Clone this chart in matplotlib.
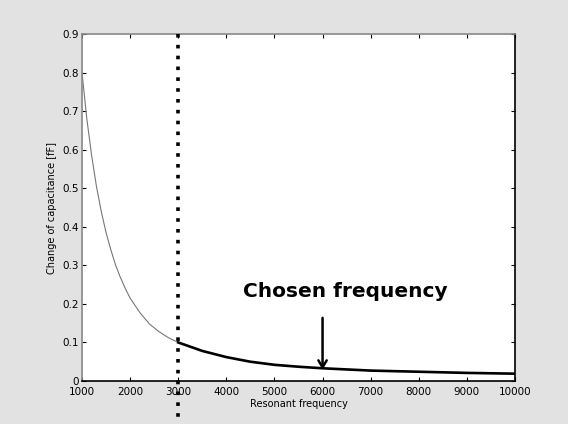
import matplotlib.pyplot as plt
from matplotlib.transforms import blended_transform_factory

# values
freq_low = [1000, 1100, 1200, 1300, 1400, 1500, 1600, 1700, 1800, 1900, 2000,
            2200, 2400, 2600, 2800, 3000]
cap_low = [0.80, 0.68, 0.585, 0.505, 0.44, 0.385, 0.34, 0.30, 0.268, 0.24, 0.215,
           0.178, 0.148, 0.128, 0.112, 0.10]

freq_high = [3000, 3500, 4000, 4500, 5000, 5500, 6000, 7000, 8000, 9000, 10000]
cap_high = [0.10, 0.078, 0.062, 0.05, 0.042, 0.037, 0.033, 0.027, 0.024, 0.021, 0.019]

xticks = [1000, 2000, 3000, 4000, 5000, 6000, 7000, 8000, 9000, 10000]
yticks = [0, 0.1, 0.2, 0.3, 0.4, 0.5, 0.6, 0.7, 0.8, 0.9]
ytick_labels = ['0', '0.1', '0.2', '0.3', '0.4', '0.5', '0.6', '0.7', '0.8', '0.9']

limit_freq = 3000
chosen_freq = 6000
chosen_cap = 0.022

fig = plt.figure(figsize=(5.68, 4.24), dpi=100, facecolor='#e2e2e2')
ax = fig.add_axes([82 / 568, 43 / 424, 433 / 568, 347 / 424])

ax.plot(freq_low, cap_low, color='#777777', lw=0.8)
ax.plot(freq_high, cap_high, color='black', lw=1.9)

# dotted limit line, running past the axes down to the figure edge
trans = blended_transform_factory(ax.transData, ax.transAxes)
ax.plot([limit_freq, limit_freq], [1.0, -0.13], transform=trans, clip_on=False,
        color='black', lw=2.6, linestyle=(0, (1, 2)), dash_capstyle='butt', zorder=5)

ax.annotate('', xy=(chosen_freq, chosen_cap), xytext=(chosen_freq, 0.171),
            arrowprops=dict(arrowstyle='->,head_length=0.5,head_width=0.3',
                            color='black', lw=1.8))
ax.text(6470, 0.218, 'Chosen frequency', ha='center', va='baseline',
        fontsize=14.5, fontweight='bold')

ax.set_xlim(1000, 10000)
ax.set_ylim(0, 0.9)
ax.set_xticks(xticks)
ax.set_yticks(yticks)
ax.set_yticklabels(ytick_labels)
ax.tick_params(direction='in', length=3, labelsize=7.5, top=True, right=True, pad=2)
ax.tick_params(axis='x', pad=4)

ax.set_xlabel('Resonant frequency', fontsize=7, labelpad=2)
ax.set_ylabel('Change of capacitance [fF]', fontsize=7, labelpad=4)

ax.spines['left'].set_color('#888888')
ax.spines['top'].set_color('#888888')
for s in ax.spines.values():
    s.set_linewidth(1.2)

fig.savefig('out.png', dpi=100, facecolor=fig.get_facecolor())
